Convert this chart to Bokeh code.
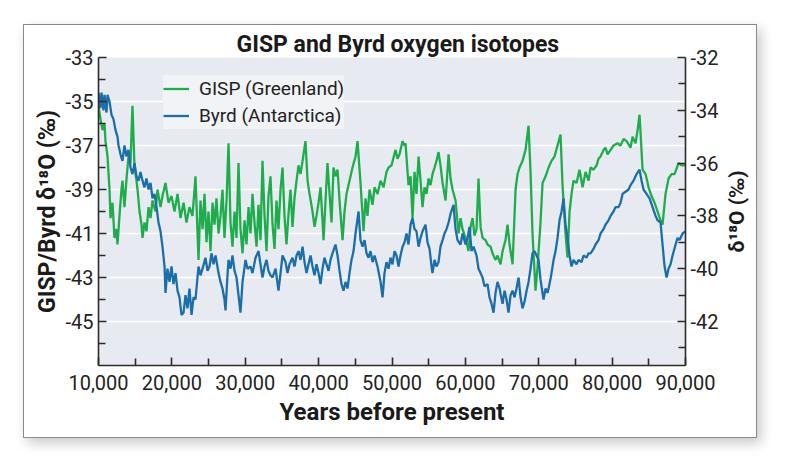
from bokeh.plotting import figure
from bokeh.models import (Range1d, LinearAxis, FixedTicker, Legend, LegendItem,
                          NumeralTickFormatter, Spacer)
from bokeh.layouts import column, row
from bokeh.embed import file_html
from bokeh.resources import INLINE

# ---------------- data ----------------
GISP_YEARS = [10000, 10270, 10550, 10820, 10950, 11230, 11500, 11640, 11910, 12180, 12450, 12590,
              12860, 13130, 13270, 13540, 13820, 14090, 14360, 14630, 14910, 15180, 15320, 15590,
              15860, 16000, 16270, 16540, 16820, 17090, 17360, 17770, 18040, 18450, 18720, 19130,
              19540, 19950, 20360, 20770, 21180, 21590, 21990, 22400, 22810, 23220, 23630, 23900,
              24180, 24450, 24720, 24990, 25270, 25540, 25810, 26080, 26360, 26630, 26900, 27170,
              27450, 27720, 27990, 28260, 28540, 28810, 29080, 29350, 29630, 29900, 30170, 30450,
              30720, 30990, 31260, 31540, 31810, 32080, 32350, 32630, 32900, 33170, 33440, 33720,
              33990, 34260, 34530, 34810, 35080, 35350, 35620, 35900, 36170, 36440, 36710, 36990,
              37260, 37530, 37810, 38210, 38490, 38760, 39170, 39440, 39710, 39990, 40260, 40530,
              40670, 40940, 41210, 41490, 41760, 42030, 42300, 42580, 42850, 43260, 43530, 43800,
              44210, 44620, 45030, 45300, 45710, 46120, 46390, 46660, 46940, 47350, 47620, 48030,
              48440, 48850, 49250, 49530, 49940, 50480, 50750, 51030, 51440, 51710, 51840, 52250,
              52530, 52800, 53070, 53340, 53620, 53890, 54160, 54430, 54710, 54980, 55250, 55520,
              55800, 56070, 56340, 56610, 56890, 57300, 57710, 57980, 58250, 58660, 59070, 59340,
              59610, 60020, 60430, 60700, 60980, 61250, 61520, 61790, 62070, 62340, 62750, 63020,
              63430, 63700, 64110, 64380, 64790, 65070, 65470, 65750, 66020, 66430, 66840, 67110,
              67380, 67790, 68200, 68610, 68880, 69150, 69560, 69840, 70240, 70520, 70930, 71340,
              71740, 72150, 72560, 72970, 73240, 73650, 73920, 74200, 74470, 74740, 75150, 75560,
              75970, 76380, 76790, 77060, 77470, 77880, 78150, 78420, 78830, 79100, 79380, 79790,
              80190, 80740, 81150, 81560, 81970, 82510, 82780, 83190, 83470, 83740, 84150, 84560,
              84970, 85370, 85780, 86190, 86600, 86870, 87280, 87690, 88100, 88510, 89050, 89460,
              90000]
GISP_D18O = [-35.2, -35.8, -36.3, -36.0, -36.8, -37.5, -39.0, -40.3, -39.6, -41.2, -40.8, -41.5,
             -40.2, -39.0, -38.6, -39.8, -38.5, -37.5, -37.8, -35.2, -38.0, -38.6, -39.0, -40.0,
             -40.6, -41.2, -40.5, -40.9, -39.8, -40.3, -39.5, -40.0, -39.0, -39.8, -39.3, -38.7,
             -39.6, -39.3, -40.0, -39.2, -40.3, -39.6, -40.5, -39.8, -40.2, -38.4, -42.2, -39.5,
             -40.8, -39.2, -41.4, -40.0, -41.8, -39.6, -40.6, -39.4, -41.0, -40.2, -39.0, -41.2,
             -39.5, -36.9, -40.5, -41.6, -40.0, -41.2, -37.8, -40.8, -41.9, -40.4, -41.5, -39.8,
             -41.0, -39.2, -40.5, -41.6, -39.7, -41.3, -37.7, -40.2, -41.8, -39.3, -38.4, -40.6,
             -41.7, -39.5, -40.8, -39.0, -38.0, -40.2, -41.5, -40.1, -39.0, -40.7, -39.4, -38.6,
             -37.9, -38.3, -37.7, -36.8, -38.6, -39.2, -40.0, -40.7, -40.2, -39.6, -38.9, -40.4,
             -41.3, -39.5, -37.8, -39.2, -40.5, -38.0, -38.4, -38.1, -39.5, -41.3, -40.0, -39.2,
             -38.6, -38.0, -37.5, -36.8, -38.7, -40.9, -39.4, -40.2, -39.0, -39.7, -38.9, -39.2,
             -38.6, -38.9, -38.2, -38.0, -37.9, -37.2, -37.6, -37.4, -36.8, -37.0, -36.9, -38.8,
             -38.4, -40.3, -38.2, -39.2, -37.5, -38.6, -39.8, -38.9, -39.2, -38.5, -38.8, -38.3,
             -38.0, -37.7, -37.3, -37.9, -38.7, -39.5, -37.4, -38.5, -39.0, -39.5, -41.0, -40.3,
             -40.8, -41.2, -41.8, -40.7, -40.3, -41.1, -40.8, -38.5, -40.7, -41.2, -41.3, -41.5,
             -41.6, -41.9, -42.2, -42.0, -42.4, -41.8, -41.3, -40.6, -41.5, -42.4, -39.0, -38.3,
             -38.0, -37.7, -37.2, -36.1, -38.2, -41.0, -43.6, -42.5, -40.5, -38.7, -38.4, -38.0,
             -37.7, -37.5, -37.0, -36.5, -38.8, -41.0, -42.1, -40.0, -39.2, -38.6, -38.7, -38.1,
             -38.9, -38.2, -38.6, -38.0, -38.1, -37.9, -37.6, -37.5, -37.2, -37.1, -37.4, -37.2,
             -37.0, -36.9, -37.0, -36.7, -36.8, -37.1, -36.6, -36.9, -36.3, -35.6, -38.1, -38.3,
             -38.9, -39.3, -39.6, -40.0, -40.4, -40.6, -39.2, -38.5, -38.3, -38.3, -37.8, -37.9,
             -37.9]

BYRD_YEARS = [10000, 10270, 10410, 10680, 10820, 11090, 11230, 11500, 11770, 12040, 12320, 12590,
              12730, 13000, 13270, 13540, 13820, 14090, 14360, 14630, 14910, 15180, 15450, 15720,
              16000, 16270, 16540, 16820, 17090, 17360, 17630, 17910, 18180, 18450, 18720, 19000,
              19130, 19400, 19680, 19950, 20220, 20500, 20770, 21040, 21310, 21590, 21860, 22130,
              22400, 22680, 22950, 23220, 23490, 23630, 23900, 24180, 24580, 24860, 25130, 25400,
              25670, 25950, 26360, 26630, 26900, 27170, 27310, 27580, 27720, 27990, 28260, 28540,
              28810, 29080, 29350, 29630, 30040, 30310, 30720, 30990, 31400, 31810, 32080, 32350,
              32630, 32900, 33170, 33440, 33720, 34130, 34530, 34810, 35080, 35490, 35760, 36030,
              36440, 36710, 36990, 37260, 37530, 37810, 38080, 38350, 38620, 38900, 39170, 39440,
              39710, 39990, 40260, 40530, 40800, 41080, 41350, 41620, 41890, 42300, 42580, 42850,
              43120, 43390, 43670, 43940, 44210, 44480, 44760, 45030, 45440, 45710, 45980, 46260,
              46530, 46800, 47070, 47350, 47620, 48030, 48440, 48710, 48980, 49250, 49530, 49800,
              50070, 50350, 50620, 50890, 51160, 51440, 51710, 51980, 52250, 52530, 52800, 53070,
              53340, 53620, 53890, 54160, 54570, 54840, 55120, 55390, 55520, 55800, 56070, 56340,
              56610, 56890, 57160, 57430, 57710, 57980, 58390, 58660, 58930, 59340, 59610, 60020,
              60290, 60570, 60840, 61110, 61520, 61790, 62070, 62340, 62610, 63020, 63290, 63570,
              63840, 64110, 64380, 64660, 65070, 65340, 65610, 65880, 66160, 66430, 66700, 66970,
              67250, 67520, 67790, 68060, 68340, 68610, 68880, 69150, 69430, 69700, 69970, 70240,
              70650, 70930, 71200, 71470, 71740, 72020, 72290, 72560, 72830, 73110, 73380, 73650,
              73920, 74200, 74470, 74740, 75150, 75420, 75830, 76110, 76510, 76790, 77060, 77470,
              77740, 78150, 78420, 78830, 79100, 79510, 79790, 80190, 80470, 80880, 81150, 81420,
              81830, 82240, 82510, 82920, 83330, 83740, 84010, 84280, 84690, 85100, 85510, 85920,
              86190, 86600, 86870, 87150, 87420, 87690, 87960, 88240, 88650, 88920, 89190, 89600,
              90000]
BYRD_D18O = [-34.6, -35.3, -34.6, -35.4, -34.7, -35.5, -34.7, -35.0, -35.6, -35.8, -36.3, -36.6,
             -37.0, -37.4, -37.7, -37.0, -37.5, -37.2, -38.0, -38.3, -37.8, -38.4, -38.6, -38.2,
             -38.6, -38.9, -38.5, -39.0, -38.7, -39.4, -39.2, -39.8, -40.5, -40.9, -41.6, -42.5,
             -43.7, -42.6, -43.2, -42.5, -43.3, -42.8, -43.6, -43.9, -44.7, -44.6, -43.8, -44.4,
             -43.5, -44.7, -43.9, -44.0, -43.0, -42.5, -42.9, -42.6, -42.1, -42.7, -42.5, -41.9,
             -42.4, -42.0, -42.8, -43.2, -43.5, -44.0, -44.5, -42.9, -42.2, -42.6, -42.0, -42.7,
             -43.0, -43.8, -44.6, -43.2, -42.2, -42.6, -42.5, -42.8, -42.1, -41.8, -42.4, -43.0,
             -42.5, -42.2, -42.7, -42.9, -43.0, -42.6, -43.6, -42.8, -42.0, -42.3, -42.8, -42.4,
             -42.1, -42.5, -42.0, -41.8, -42.2, -41.6, -42.3, -42.8, -42.4, -42.0, -42.5, -42.9,
             -42.4, -42.8, -43.3, -42.6, -42.1, -42.4, -42.7, -42.2, -41.9, -41.5, -42.0, -42.7,
             -43.3, -43.6, -43.2, -43.5, -42.8, -42.2, -41.8, -41.0, -40.0, -41.3, -41.6, -41.3,
             -41.9, -42.1, -41.8, -42.3, -42.0, -42.5, -43.2, -43.9, -42.8, -42.3, -42.6, -42.1,
             -42.4, -41.8, -42.0, -42.5, -42.0, -41.6, -41.4, -41.0, -41.5, -40.6, -40.3, -40.8,
             -40.9, -41.6, -41.2, -40.9, -40.6, -41.4, -41.7, -42.5, -42.8, -42.2, -42.5, -42.3,
             -41.6, -41.3, -41.0, -40.8, -40.5, -40.1, -39.7, -40.8, -41.3, -41.5, -41.0, -41.5,
             -41.2, -40.7, -41.8, -41.6, -42.0, -42.6, -42.8, -43.0, -43.4, -43.3, -43.9, -44.2,
             -44.6, -43.7, -43.2, -43.5, -44.2, -43.6, -44.0, -44.6, -43.8, -43.6, -43.9, -43.5,
             -43.0, -43.9, -44.4, -44.1, -43.6, -43.2, -42.6, -41.9, -41.8, -42.0, -42.2, -43.1,
             -44.0, -43.5, -43.7, -43.3, -42.8, -42.2, -41.8, -41.2, -40.4, -40.0, -39.4, -40.6,
             -41.2, -42.0, -42.5, -42.2, -42.4, -42.2, -42.3, -42.0, -42.1, -41.9, -41.9, -41.7,
             -41.5, -41.3, -41.0, -40.8, -40.6, -40.4, -40.2, -40.0, -39.8, -39.8, -39.6, -39.2,
             -39.1, -39.0, -38.8, -38.6, -38.3, -38.1, -38.6, -39.0, -39.2, -39.4, -39.8, -40.2,
             -40.4, -40.5, -41.5, -42.5, -43.0, -42.6, -42.4, -42.0, -41.5, -41.2, -41.3, -41.0,
             -40.9]

X_TICKS = [10000, 20000, 30000, 40000, 50000, 60000, 70000, 80000, 90000]
X_MINOR = [15000, 25000, 35000, 45000, 55000, 65000, 75000, 85000]
LEFT_TICKS = [-33, -35, -37, -39, -41, -43, -45]
LEFT_MINOR = [-34, -36, -38, -40, -42, -44, -46]
RIGHT_TICKS = [-32, -34, -36, -38, -40, -42]
RIGHT_MINOR = [-33, -35, -37, -39, -41, -43]

TITLE = "GISP and Byrd oxygen isotopes"
X_LABEL = "Years before present"
LEFT_LABEL = "GISP/Byrd δ¹⁸O (‰)"
RIGHT_LABEL = "δ¹⁸O (‰)"
SERIES = ["GISP (Greenland)", "Byrd (Antarctica)"]

FONT = "Roboto"
GREEN = "#1eac4d"
BLUE = "#1b6ea8"
AXIS = "#2b2b2b"

p = figure(width=697, height=412,
           x_range=Range1d(10000, 90000), y_range=Range1d(-47, -33),
           output_backend="svg", toolbar_location=None,
           min_border_left=74, min_border_right=36, min_border_top=32, min_border_bottom=72,
           background_fill_color="#e7eaf1", border_fill_color="white",
           outline_line_color=None)

p.title.text = TITLE
p.title.align = "left"
p.title.offset = 138
p.title.standoff = 0
p.title.text_font = FONT
p.title.text_font_size = "23px"
p.title.text_font_style = "bold"
p.title.text_color = "#1a1a1a"

p.extra_y_ranges = {"right": Range1d(-43.6667, -32)}
rax = LinearAxis(y_range_name="right")
p.add_layout(rax, "right")


def style_axis(ax, ticks, minor):
    ax.ticker = FixedTicker(ticks=ticks, minor_ticks=minor)
    ax.axis_line_color = AXIS
    ax.axis_line_width = 1.6
    ax.major_tick_line_color = AXIS
    ax.minor_tick_line_color = AXIS
    ax.major_tick_line_width = 1.6
    ax.minor_tick_line_width = 1.6
    ax.major_tick_in = 8
    ax.major_tick_out = 0
    ax.minor_tick_in = 7
    ax.minor_tick_out = 0
    ax.major_label_text_font = FONT
    ax.major_label_text_font_size = "20px"
    ax.major_label_text_color = "#222222"
    ax.major_label_standoff = 5


def label_style(ax, text, size):
    ax.axis_label = text
    ax.axis_label_text_font = FONT
    ax.axis_label_text_font_size = size
    ax.axis_label_text_font_style = "bold"
    ax.axis_label_text_color = "#1a1a1a"


style_axis(p.xaxis[0], X_TICKS, X_MINOR)
p.xaxis[0].formatter = NumeralTickFormatter(format="0,0")
p.xaxis[0].major_label_standoff = 9
label_style(p.xaxis[0], X_LABEL, "24px")
p.xaxis[0].axis_label_standoff = 5

style_axis(p.yaxis[0], LEFT_TICKS, LEFT_MINOR)
p.yaxis[0].major_label_overrides = {t: "-%d" % abs(t) for t in LEFT_TICKS}
label_style(p.yaxis[0], LEFT_LABEL, "23px")
p.yaxis[0].axis_label_standoff = 1

style_axis(rax, RIGHT_TICKS, RIGHT_MINOR)
rax.major_label_overrides = {t: "-%d" % abs(t) for t in RIGHT_TICKS}

p.xgrid.visible = False
p.ygrid.ticker = FixedTicker(ticks=LEFT_TICKS[1:])
p.ygrid.grid_line_color = "white"
p.ygrid.grid_line_width = 1.6

g = p.line(GISP_YEARS, GISP_D18O, line_color=GREEN, line_width=2.3)
b = p.line(BYRD_YEARS, BYRD_D18O, line_color=BLUE, line_width=2.3)

legend = Legend(items=[LegendItem(label=SERIES[0], renderers=[g]),
                       LegendItem(label=SERIES[1], renderers=[b])],
                location=(65, 236), orientation="vertical",
                background_fill_color="#f1f3f7", background_fill_alpha=1.0,
                border_line_color=None, padding=9, margin=0, spacing=0,
                label_height=27, glyph_height=27, glyph_width=26, label_standoff=10,
                label_text_font=FONT, label_text_font_size="19px",
                label_text_color="#222222")
p.add_layout(legend, "center")

# narrow strip to the right that carries the right-hand axis title (reads bottom to top)
side = figure(width=35, height=412, x_range=Range1d(0, 1), y_range=Range1d(0, 1),
              output_backend="svg", toolbar_location=None,
              min_border_left=0, min_border_right=0, min_border_top=32, min_border_bottom=72,
              background_fill_color="white", border_fill_color="white",
              outline_line_color=None)
side.xaxis.visible = False
side.grid.visible = False
sax = side.yaxis[0]
sax.ticker = FixedTicker(ticks=[])
sax.axis_line_color = None
sax.major_tick_line_color = None
sax.minor_tick_line_color = None
label_style(sax, RIGHT_LABEL, "21px")
sax.axis_label_standoff = 0

card = row(p, side)
card.styles = {"border": "1px solid #8a8a8a",
               "box-shadow": "4px 5px 12px rgba(0,0,0,0.22)"}

page = column(Spacer(width=10, height=24), row(Spacer(width=23, height=10), card))

open("out.html", "w").write(file_html(page, INLINE))
